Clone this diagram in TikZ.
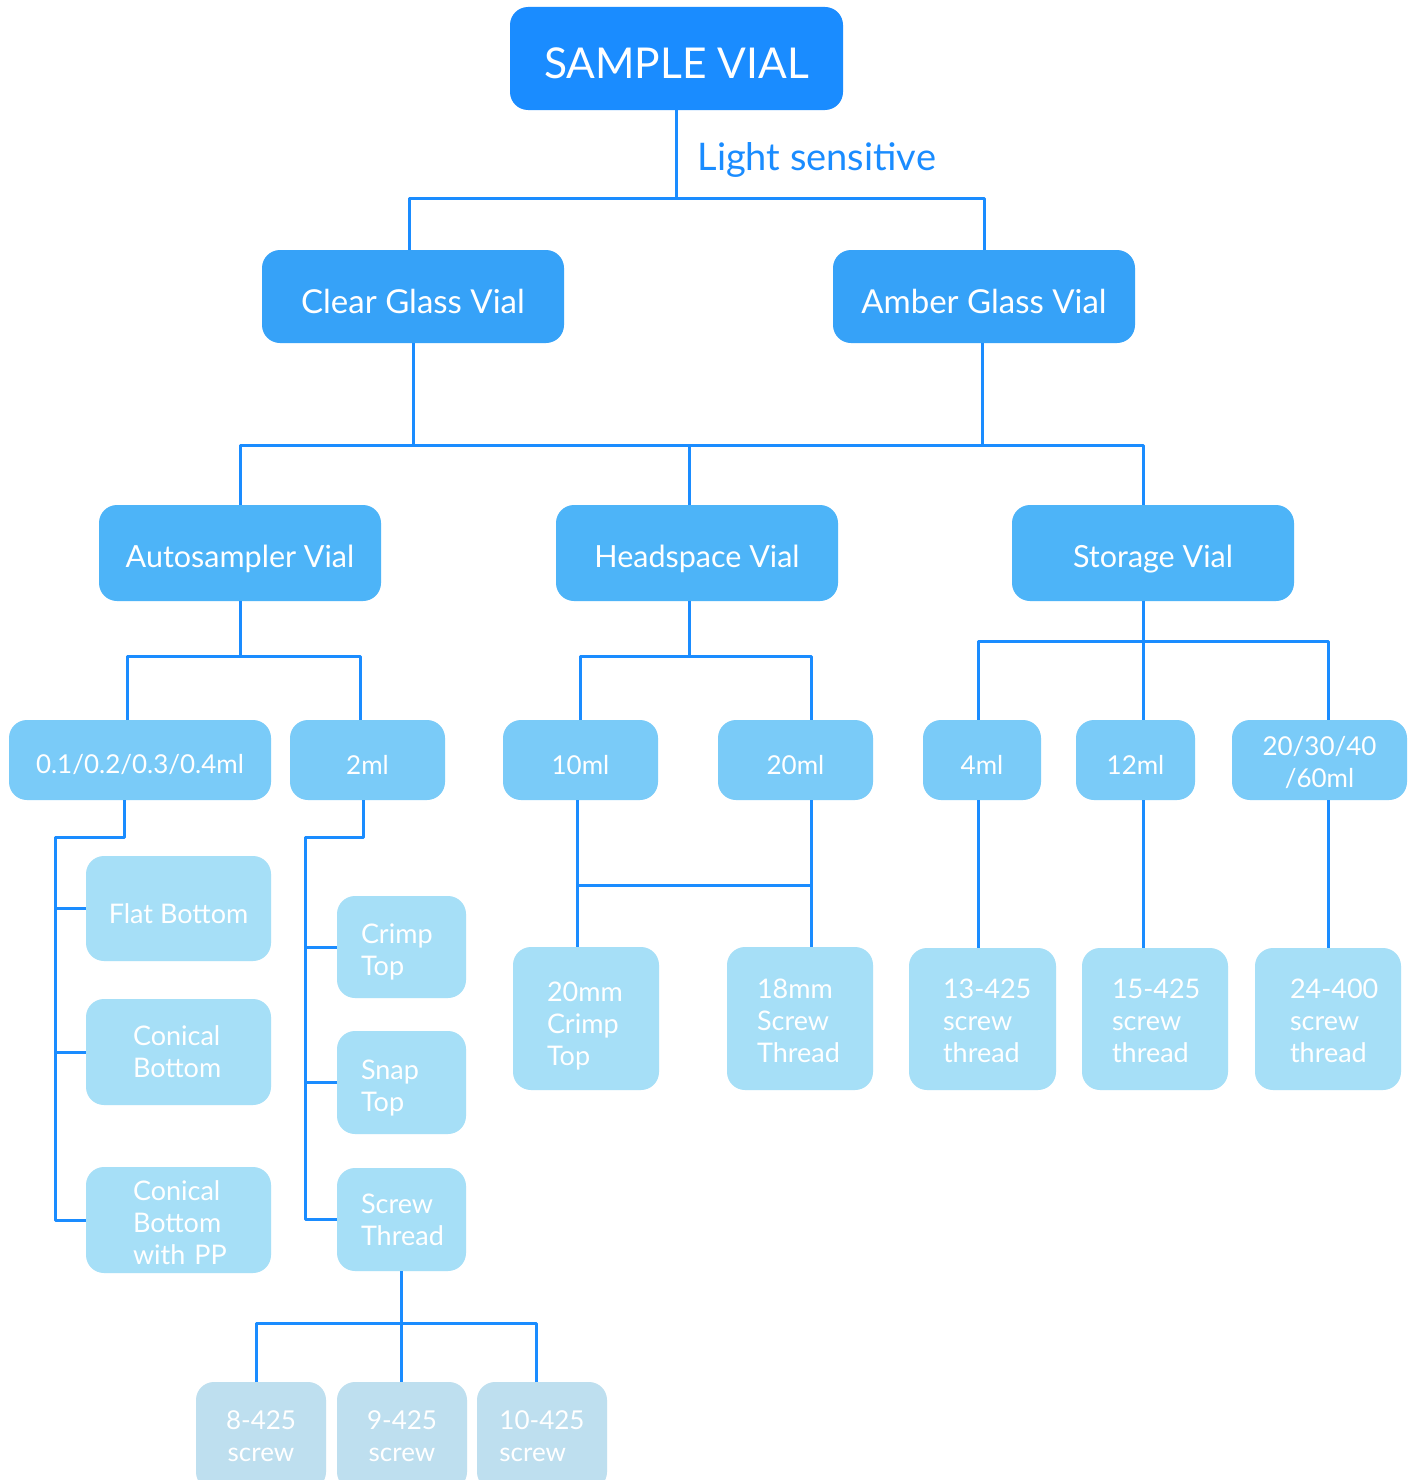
\documentclass[tikz,border=0pt]{standalone}
\usepackage{fontspec}
\setmainfont{Lato}
\definecolor{vialA}{HTML}{1A8CFF}
\definecolor{vialB}{HTML}{36A2F8}
\definecolor{vialC}{HTML}{4DB4F8}
\definecolor{vialD}{HTML}{7ACBF8}
\definecolor{vialE}{HTML}{A6DFF7}
\definecolor{vialF}{HTML}{BEDFEF}
\tikzset{
	box/.style={rounded corners=18pt, text=white, align=center, inner sep=0pt},
	drop/.style={execute at begin node={\rule{0pt}{#1}}},
	conn/.style={draw=vialA, line width=3pt},
	lvlA/.style={box, fill=vialA, minimum width=333pt, minimum height=103pt, font=\fontsize{42.5}{50}\selectfont, drop=41pt},
	lvlB/.style={box, fill=vialB, minimum width=302pt, minimum height=93pt, font=\fontsize{33}{40}\selectfont, drop=35pt},
	lvlC/.style={box, fill=vialC, minimum width=282pt, minimum height=96pt, font=\fontsize{30.5}{38}\selectfont, drop=34pt},
	lvlD/.style={box, fill=vialD, minimum height=80pt, font=\fontsize{26}{32}\selectfont},
	lvlE/.style={box, fill=vialE, align=left, font=\fontsize{27}{32}\selectfont},
	lvlF/.style={box, fill=vialF, minimum width=130pt, minimum height=108pt, font=\fontsize{26}{32}\selectfont},
}
\begin{document}
\begin{tikzpicture}[x=1pt, y=-1pt, line join=round]
	\clip (0,0) rectangle (1416,1480);
	\fill[white] (0,0) rectangle (1416,1480);
	% top levels
	\node[lvlA] (root) at (676.5,58.5) {SAMPLE VIAL};
	\node[anchor=west, text=vialA, font=\fontsize{38}{44}\selectfont] (light) at (694,160) {Light sensitive};
	\node[lvlB] (clear) at (413,296.5) {Clear Glass Vial};
	\node[lvlB] (amber) at (984,296.5) {Amber Glass Vial};
	\node[lvlC] (auto) at (240,553) {Autosampler Vial};
	\node[lvlC] (head) at (697,553) {Headspace Vial};
	\node[lvlC] (stor) at (1153,553) {Storage Vial};
	% volumes
	\node[lvlD, drop=29pt, minimum width=262pt] (v01) at (140,760) {0.1/0.2/0.3/0.4ml};
	\node[lvlD, drop=29pt, minimum width=155pt] (v2) at (367.5,760) {2ml};
	\node[lvlD, drop=29pt, minimum width=155pt] (v10) at (580.5,760) {10ml};
	\node[lvlD, drop=29pt, minimum width=155pt] (v20) at (795.5,760) {20ml};
	\node[lvlD, drop=29pt, minimum width=118pt] (v4) at (982,760) {4ml};
	\node[lvlD, drop=29pt, minimum width=119pt] (v12) at (1135.5,760) {12ml};
	\node[lvlD, drop=25pt, minimum width=175pt, text width=140pt] (v60) at (1319.5,760) {20/30/40\\/60ml};
	% bottoms and tops
	\node[lvlE, drop=30pt, minimum width=185pt, minimum height=105pt] (flat) at (178.5,908.5) {Flat Bottom};
	\node[lvlE, minimum width=185pt, minimum height=106pt, text width=91pt] (con) at (178.5,1052) {Conical\\Bottom};
	\node[lvlE, drop=26pt, minimum width=185pt, minimum height=106pt, text width=91pt] (conpp) at (178.5,1220) {Conical\\Bottom\\\mbox{with PP}};
	\node[lvlE, drop=30pt, minimum width=129pt, minimum height=102pt, text width=81pt] (crimp) at (401.5,947) {Crimp\\Top};
	\node[lvlE, drop=30pt, minimum width=129pt, minimum height=103pt, text width=81pt] (snap) at (401.5,1082.5) {Snap\\Top};
	\node[lvlE, minimum width=129pt, minimum height=103pt, text width=81pt] (screw) at (401.5,1219.5) {Screw\\Thread};
	\node[lvlE, drop=34pt, minimum width=146pt, minimum height=143pt, text width=78pt] (c20) at (586,1018.5) {20mm\\Crimp\\Top};
	\node[lvlE, drop=24pt, minimum width=146pt, minimum height=143pt, text width=86pt] (s18) at (800,1018.5) {18mm\\Screw\\Thread};
	\node[lvlE, drop=24pt, minimum width=147pt, minimum height=142pt, text width=79pt] (t13) at (982.5,1019) {\mbox{13-425}\\screw\\thread};
	\node[lvlE, drop=24pt, minimum width=146pt, minimum height=142pt, text width=86pt] (t15) at (1155,1019) {\mbox{15-425}\\screw\\thread};
	\node[lvlE, drop=24pt, minimum width=146pt, minimum height=142pt, text width=76pt] (t24) at (1328,1019) {\mbox{24-400}\\screw\\thread};
	% screw sizes
	\node[lvlF] (s8) at (261,1436) {8-425\\screw};
	\node[lvlF] (s9) at (402,1436) {9-425\\screw};
	\node[lvlF, align=left] (s10) at (542,1436) {10-425\\screw};
	% connectors
	\coordinate (bus1) at (0,198);
	\coordinate (bus2) at (0,445);
	\coordinate (bus3) at (0,656);
	\coordinate (bus4) at (0,641);
	\coordinate (bus5) at (55,837);
	\coordinate (bus6) at (305,837);
	\coordinate (bus7) at (0,885);
	\coordinate (bus8) at (0,1323);
	\draw[conn] (root.south) -- (root.south |- bus1);
	\draw[conn] (clear.north -| 409,0) |- (bus1 -| amber.north) -- (amber.north);
	\draw[conn] (clear.south) -- (clear.south |- bus2);
	\draw[conn] (amber.south -| 982,0) -- (bus2 -| 982,0);
	\draw[conn] (auto.north) |- (bus2 -| 1143,0) -- (stor.north -| 1143,0);
	\draw[conn] (head.north -| 689,0) -- (bus2 -| 689,0);
	\draw[conn] (auto.south) -- (auto.south |- bus3);
	\draw[conn] (v01.north -| 127,0) |- (bus3 -| 360,0) -- (v2.north -| 360,0);
	\draw[conn] (head.south -| 689,0) -- (bus3 -| 689,0);
	\draw[conn] (v10.north) |- (bus3 -| 811,0) -- (v20.north -| 811,0);
	\draw[conn] (stor.south -| 1143,0) -- (v12.north -| 1143,0);
	\draw[conn] (v4.north -| 978,0) |- (bus4 -| 1328,0) -- (v60.north -| 1328,0);
	\draw[conn] (v4.south -| 978,0) -- (t13.north -| 978,0);
	\draw[conn] (v12.south -| 1143,0) -- (t15.north -| 1143,0);
	\draw[conn] (v60.south -| 1328,0) -- (t24.north -| 1328,0);
	\draw[conn] (v01.south -| 124,0) |- (bus5) |- (conpp.west);
	\draw[conn] (flat.west -| bus5) -- (flat.west);
	\draw[conn] (con.west -| bus5) -- (con.west);
	\draw[conn] (v2.south -| 363,0) |- (bus6) |- (screw.west);
	\draw[conn] (crimp.west -| bus6) -- (crimp.west);
	\draw[conn] (snap.west -| bus6) -- (snap.west);
	\draw[conn] (v10.south -| 577,0) -- (c20.north -| 577,0);
	\draw[conn] (v20.south -| 811,0) -- (s18.north -| 811,0);
	\draw[conn] (bus7 -| 577,0) -- (bus7 -| 811,0);
	\draw[conn] (screw.south) -- (s9.north -| screw.south);
	\draw[conn] (s8.north -| 256,0) |- (bus8 -| 536,0) -- (s10.north -| 536,0);
\end{tikzpicture}
\end{document}
